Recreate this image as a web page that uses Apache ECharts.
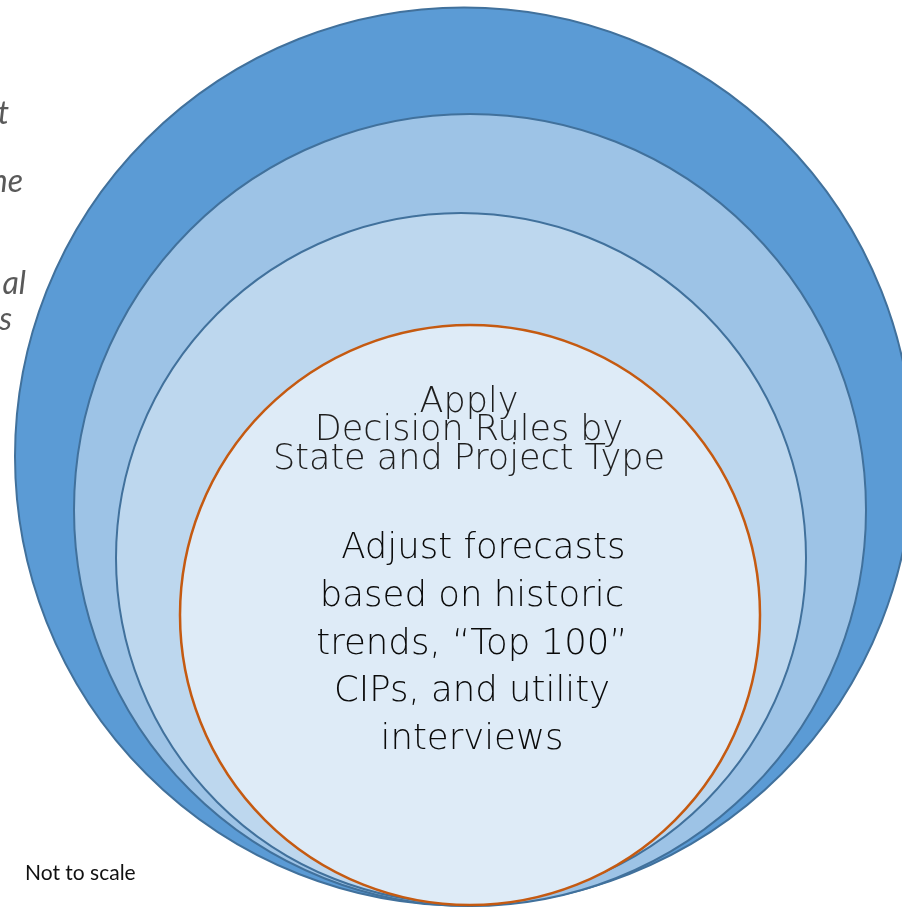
<!DOCTYPE html>
<html>
<head>
<meta charset="utf-8">
<title>Forecast adjustment rings</title>
<script src="https://cdn.jsdelivr.net/npm/echarts@6/dist/echarts.min.js"></script>
<style>
  html, body { margin: 0; padding: 0; background: #ffffff; }
  #chart { width: 902px; height: 907px; }
</style>
</head>
<body>
<div id="chart"></div>
<script>
// Nested rings, outermost first: centre x, centre y and radius in plot units
const ringNames   = ['Outer scope', 'Second scope', 'Third scope', 'Decision rules'];
const ringCenterX = [464, 470, 461, 470];
const ringCenterY = [456.5, 510, 558, 615];
const ringRadius  = [449, 396, 345, 290];

// Text shown in the innermost ring
const headerLines = ['Apply', 'Decision Rules by', 'State and Project Type'];
const bodyLines   = ['  Adjust forecasts', 'based on historic', 'trends, \u201cTop 100\u201d', 'CIPs, and utility', 'interviews'];

// Tails of the side captions that run off the left edge
const sideCaptions = ['t', 'ne', 'al', 's'];
const footNote = 'Not to scale';

const ringFills   = ['#5B9BD5', '#9DC3E6', '#BDD7EE', '#DEEBF7'];
const ringStrokes = ['#41719C', '#41719C', '#41719C', '#C55A11'];
const ringWidths  = [2, 2, 2, 2.5];

const ringData = ringNames.map((n, i) => ({
  name: n,
  value: [ringCenterX[i], ringCenterY[i], ringRadius[i]]
}));

const chart = echarts.init(document.getElementById('chart'), null, { renderer: 'canvas' });

const sideCaptionPos = [
  { x: 9,  y: 114 },
  { x: 23, y: 182 },
  { x: 26, y: 284 },
  { x: 12, y: 320 }
];

const option = {
  backgroundColor: '#ffffff',
  animation: false,
  grid: { left: 0, right: 0, top: 0, bottom: 0 },
  xAxis: { type: 'value', min: 0, max: 902, show: false },
  yAxis: { type: 'value', min: 0, max: 907, inverse: true, show: false },
  series: [{
    type: 'custom',
    coordinateSystem: 'cartesian2d',
    clip: false,
    data: ringData,
    renderItem: function (params, api) {
      const c = api.coord([api.value(0), api.value(1)]);
      const r = api.size([api.value(2), 0])[0];
      const i = params.dataIndex;
      return {
        type: 'circle',
        shape: { cx: c[0], cy: c[1], r: r },
        style: { fill: ringFills[i], stroke: ringStrokes[i], lineWidth: ringWidths[i] }
      };
    }
  }],
  graphic: [
    {
      type: 'text', z: 10,
      x: 469, y: 431.2,
      style: {
        text: headerLines.join('\n'),
        font: '300 35px "DejaVu Sans", sans-serif',
        fill: '#1e1e1e',
        align: 'center', verticalAlign: 'middle',
        lineHeight: 28.5
      }
    },
    {
      type: 'text', z: 10,
      x: 472, y: 644.5,
      style: {
        text: bodyLines.join('\n'),
        font: '300 35.5px "DejaVu Sans", sans-serif',
        fill: '#0a0a0a',
        align: 'center', verticalAlign: 'middle',
        lineHeight: 47.75
      }
    },
    {
      type: 'text', z: 10,
      x: 25, y: 873,
      style: {
        text: footNote,
        font: '21px Lato, "Open Sans", sans-serif',
        fill: '#111111',
        align: 'left', verticalAlign: 'middle'
      }
    }
  ].concat(sideCaptions.map((t, i) => ({
    type: 'text', z: 10,
    x: sideCaptionPos[i].x, y: sideCaptionPos[i].y,
    style: {
      text: t,
      font: 'italic 32px Lato, "Open Sans", sans-serif',
      fill: '#595959',
      align: 'right', verticalAlign: 'middle'
    }
  })))
};

chart.setOption(option);
</script>
</body>
</html>
